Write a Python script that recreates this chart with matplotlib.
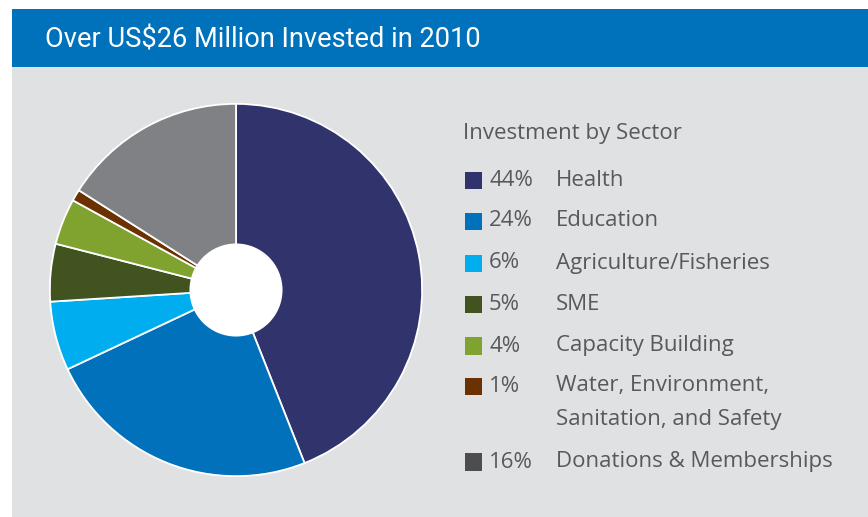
import matplotlib
matplotlib.use("Agg")
import matplotlib.pyplot as plt
from matplotlib.patches import Rectangle, Circle

title = "Over US$26 Million Invested in 2010"
legend_title = "Investment by Sector"
sectors = ["Health", "Education", "Agriculture/Fisheries", "SME", "Capacity Building",
           "Water, Environment,\nSanitation, and Safety", "Donations & Memberships"]
shares = [44, 24, 6, 5, 4, 1, 16]
pct_labels = ["44%", "24%", "6%", "5%", "4%", "1%", "16%"]
slice_colors = ["#31346C", "#0071BA", "#00AEEF", "#415420", "#80A22E", "#6B3100", "#808184"]
legend_colors = ["#31346C", "#0071BA", "#00AEEF", "#415420", "#80A22E", "#6B3100", "#4D4D4F"]

W, H = 868, 517
fig = plt.figure(figsize=(W / 100, H / 100), dpi=100)
fig.patch.set_facecolor("white")

def fx(px):
    return px / W

def fy(py):
    return 1 - py / H

# background panels
fig.patches.append(Rectangle((fx(12), fy(517)), fx(868) - fx(12), fy(67) - fy(517),
                             transform=fig.transFigure, facecolor="#E0E1E3", edgecolor="none", zorder=-2))
fig.patches.append(Rectangle((fx(12), fy(67)), fx(868) - fx(12), fy(9) - fy(67),
                             transform=fig.transFigure, facecolor="#0072BC", edgecolor="none", zorder=-2))

fig.text(fx(45), fy(40), title, color="white", fontsize=19.6,
         family="Roboto", va="center", ha="left")

# pie
cx, cy, r = 236, 290, 188
ax = fig.add_axes([fx(cx - r), fy(cy + r), fx(2 * r), fy(cy - r) - fy(cy + r)])
ax.set_zorder(2)
ax.pie(shares, colors=slice_colors, startangle=90, counterclock=False, radius=1.0,
       wedgeprops=dict(edgecolor="white", linewidth=1.3))
ax.add_patch(Circle((0, 0), 0.25, facecolor="white", edgecolor="none", zorder=5))
ax.set_xlim(-1.01, 1.01)
ax.set_ylim(-1.01, 1.01)
ax.set_aspect("equal")
ax.axis("off")

# legend
txt_color = "#58595B"
fs = 16
fam = "Open Sans"
fig.text(fx(463), fy(133), legend_title, color=txt_color, fontsize=fs, family=fam,
         va="center", ha="left")
row_y = [180, 221, 263, 304, 346, 386, 462]
sq = 17
for label, pct, col, y in zip(sectors, pct_labels, legend_colors, row_y):
    fig.patches.append(Rectangle((fx(465), fy(y + sq / 2)), fx(sq), fy(y - sq / 2) - fy(y + sq / 2),
                                 transform=fig.transFigure, facecolor=col, edgecolor="none"))
    fig.text(fx(489), fy(y), pct, color=txt_color, fontsize=fs, family=fam,
             va="center", ha="left")
    fig.text(fx(556), fy(y), label.split("\n")[0], color=txt_color, fontsize=fs, family=fam,
             va="center", ha="left")
    if "\n" in label:
        fig.text(fx(556), fy(y + 33), label.split("\n")[1], color=txt_color, fontsize=fs,
                 family=fam, va="center", ha="left")

fig.savefig("out.png", dpi=100, facecolor="white")
